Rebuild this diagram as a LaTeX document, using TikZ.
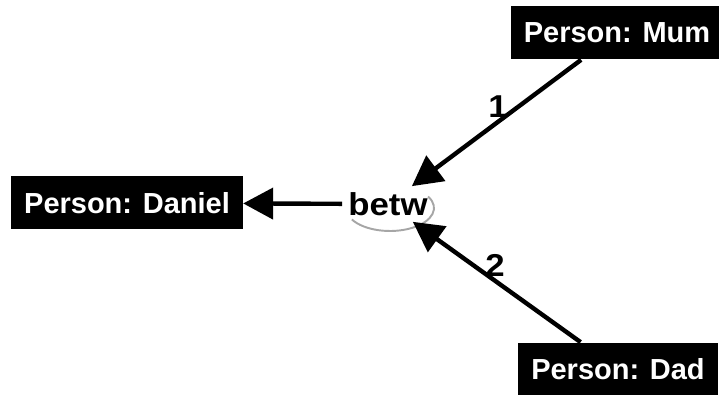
\documentclass[tikz,border=0pt]{standalone}
\usepackage{fontspec}
\usetikzlibrary{arrows.meta}
\newfontfamily\boxfont{Liberation Sans}
\newfontfamily\relfont[FakeStretch=1.1]{Liberation Sans}
\begin{document}
\begin{tikzpicture}[x=0.02cm,y=0.02cm]

      \useasboundingbox (0,0) rectangle (719,401);

      \begin{scope}[every node/.style={fill=black,text=white,inner xsep=0.26cm,
          minimum height=1.06cm,font=\boxfont\bfseries\fontsize{16.5}{18}\selectfont}]
        \node (daniel) at (127,198) {Person: Daniel};
        \node (mum)    at (617,368) {Person: Mum};
        \node (dad)    at (618,32)  {Person: Dad};
      \end{scope}

      \node[font=\relfont\bfseries\fontsize{18}{20}\selectfont] (betw) at (388,197) {betw};
      \draw[gray!70,line width=1.1pt] (390,193) ++(210:44 and 23)
        arc[start angle=210,end angle=390,x radius=44,y radius=23];

      \begin{scope}[every node/.style={font=\relfont\bfseries\fontsize{18}{20}\selectfont,inner sep=1pt}]

        \begin{scope}[every edge/.style={draw,line width=2.5pt,
            -{Triangle[length=0.6cm,width=0.62cm]}}]
          \path (betw) edge (daniel);
          \path (mum)  edge node[above,pos=0.49] {1} (betw);
          \path (dad)  edge node[above,pos=0.51] {2} (betw);
        \end{scope}
      \end{scope}

    \end{tikzpicture}
\end{document}
